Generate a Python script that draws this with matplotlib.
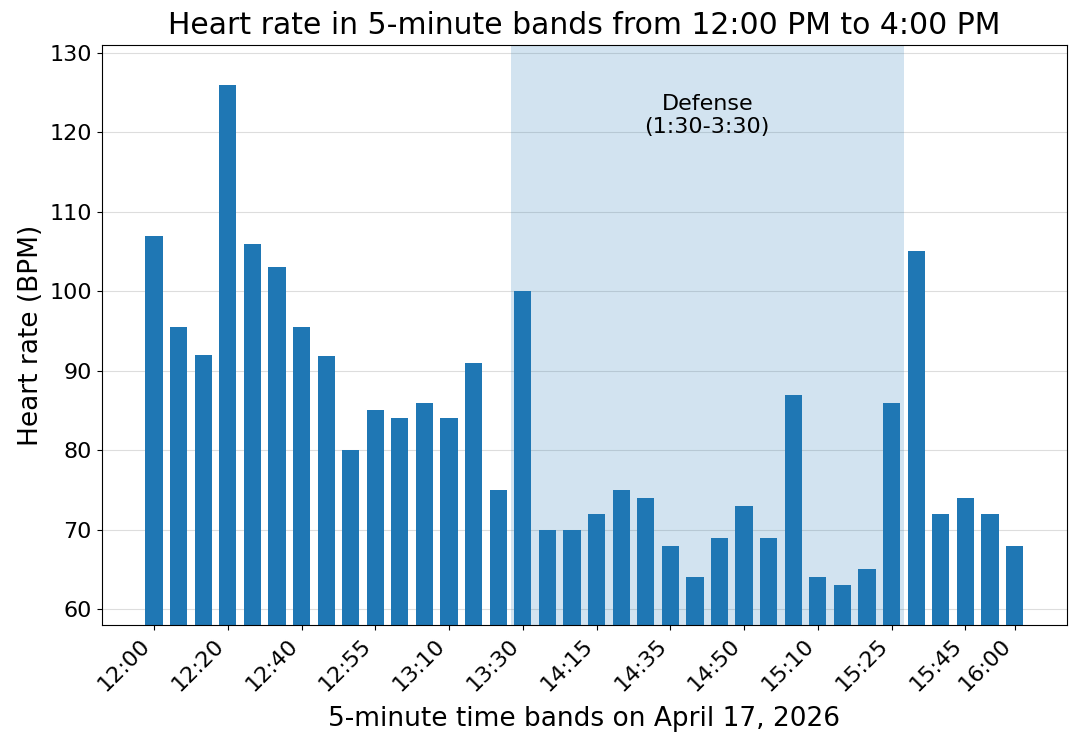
import numpy as np
import matplotlib
matplotlib.use("Agg")
from matplotlib import pyplot as plt

bands = ['12:00', '12:05', '12:10', '12:20', '12:25', '12:30', '12:40', '12:45', '12:50',
         '12:55', '13:00', '13:05', '13:10', '13:15', '13:20', '13:30', '13:40', '14:05',
         '14:15', '14:20', '14:25', '14:35', '14:40', '14:45', '14:50', '14:55', '15:00',
         '15:10', '15:15', '15:20', '15:25', '15:30', '15:35', '15:45', '15:50', '16:00']

bpm = [107, 95.5, 92, 126, 106, 103, 95.5, 91.8, 80, 85, 84, 86, 84, 91, 75, 100,
       70, 70, 72, 75, 74, 68, 64, 69, 73, 69, 87, 64, 63, 65, 86, 105, 72, 74, 72, 68]

defense_start = '13:30'
defense_end = '15:25'

x = np.arange(len(bands))

fig, ax = plt.subplots(figsize=(10.8, 7.46), dpi=100)

i0 = bands.index(defense_start) - 0.5
i1 = bands.index(defense_end) + 0.5
ax.axvspan(i0, i1, color='tab:blue', alpha=0.2, lw=0)
ax.text((i0 + i1) / 2, 122.1, 'Defense\n(1:30-3:30)', ha='center', va='center', fontsize=16)

ax.bar(x, bpm, width=0.7, color='#1f77b4', zorder=2)

ax.set_ylim(58, 131)
ax.grid(axis='y', color='#dddddd', lw=0.8, zorder=0)
ax.set_axisbelow(True)

tick_idx = list(range(0, len(bands), 3)) + [len(bands) - 1]
ax.set_xticks(tick_idx)
ax.set_xticklabels([bands[i] for i in tick_idx], rotation=45, ha='right')
ax.tick_params(axis='both', labelsize=16)

ax.set_title('Heart rate in 5-minute bands from 12:00 PM to 4:00 PM', fontsize=21.5, pad=8)
ax.set_xlabel('5-minute time bands on April 17, 2026', fontsize=19, labelpad=8)
ax.set_ylabel('Heart rate (BPM)', fontsize=19)

fig.subplots_adjust(left=0.094, right=0.988, top=0.94, bottom=0.162)
fig.savefig('out.png', dpi=100)
